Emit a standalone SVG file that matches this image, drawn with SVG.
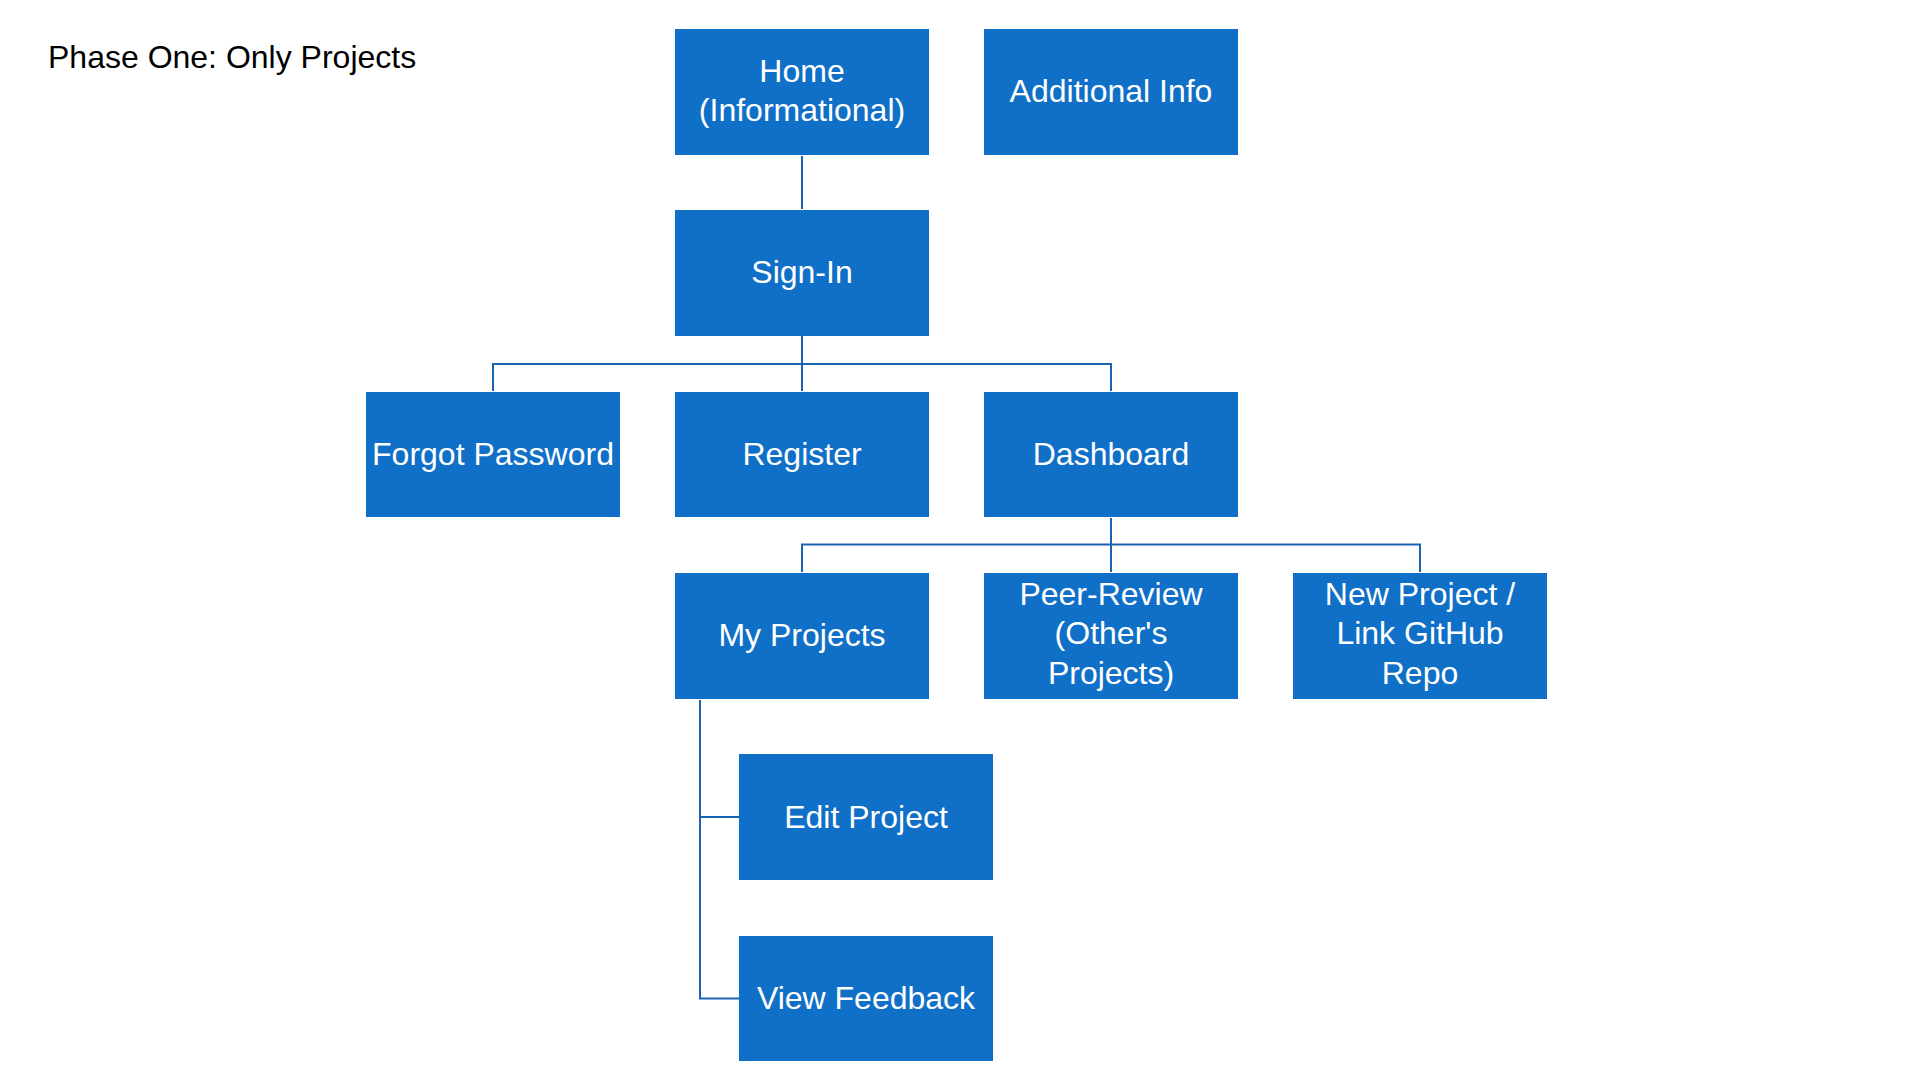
<svg xmlns="http://www.w3.org/2000/svg" width="1920" height="1080" viewBox="0 0 1920 1080">
<style>
.box{fill:#1070C7;}
.lbl{fill:#FFFFFF;font-family:"Liberation Sans",Arial,sans-serif;font-size:32px;text-anchor:middle;}
.title{fill:#000000;font-family:"Liberation Sans",Arial,sans-serif;font-size:32px;}
.conn{fill:none;stroke:#1A62B2;stroke-width:2;}
</style>
<rect width="1920" height="1080" fill="#FFFFFF"/>
<text class="title" x="48" y="68">Phase One: Only Projects</text>
<g id="connectors">
<path class="conn" d="M802,156 V209"/>
<path class="conn" d="M802,336 V391 M493,391 V364 H1111 V391"/>
<path class="conn" d="M1111,518 V572 M802,572 V544.5 H1420 V572"/>
<path class="conn" d="M700,700 V998.5 H739 M700,817 H739"/>
</g>
<g id="home"><rect class="box" x="675" y="29" width="254" height="126"/><text class="lbl" x="802" y="82">Home</text><text class="lbl" x="802" y="121">(Informational)</text></g>
<g id="additional-info"><rect class="box" x="984" y="29" width="254" height="126"/><text class="lbl" x="1111" y="102">Additional Info</text></g>
<g id="sign-in"><rect class="box" x="675" y="210" width="254" height="126"/><text class="lbl" x="802" y="283">Sign-In</text></g>
<g id="forgot-password"><rect class="box" x="366" y="392" width="254" height="125"/><text class="lbl" x="493" y="465">Forgot Password</text></g>
<g id="register"><rect class="box" x="675" y="392" width="254" height="125"/><text class="lbl" x="802" y="465">Register</text></g>
<g id="dashboard"><rect class="box" x="984" y="392" width="254" height="125"/><text class="lbl" x="1111" y="465">Dashboard</text></g>
<g id="my-projects"><rect class="box" x="675" y="573" width="254" height="126"/><text class="lbl" x="802" y="646">My Projects</text></g>
<g id="peer-review"><rect class="box" x="984" y="573" width="254" height="126"/><text class="lbl" x="1111" y="605">Peer-Review</text><text class="lbl" x="1111" y="644">(Other's</text><text class="lbl" x="1111" y="684">Projects)</text></g>
<g id="new-project"><rect class="box" x="1293" y="573" width="254" height="126"/><text class="lbl" x="1420" y="605">New Project /</text><text class="lbl" x="1420" y="644">Link GitHub</text><text class="lbl" x="1420" y="684">Repo</text></g>
<g id="edit-project"><rect class="box" x="739" y="754" width="254" height="126"/><text class="lbl" x="866" y="828">Edit Project</text></g>
<g id="view-feedback"><rect class="box" x="739" y="936" width="254" height="125"/><text class="lbl" x="866" y="1009">View Feedback</text></g>
</svg>
